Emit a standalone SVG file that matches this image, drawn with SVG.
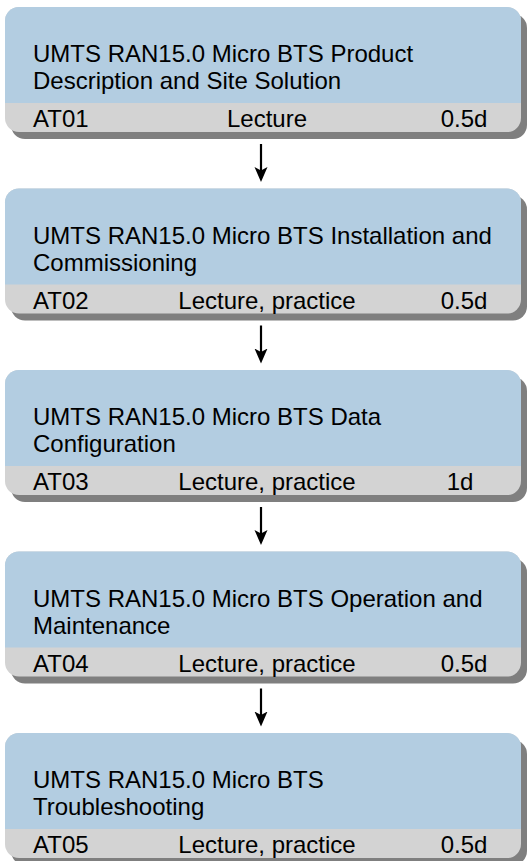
<svg xmlns="http://www.w3.org/2000/svg" xmlns:xlink="http://www.w3.org/1999/xlink" width="530" height="861" viewBox="0 0 530 861">
  <style>
    text { font-family: "Liberation Sans", Arial, sans-serif; font-size: 24px; fill: #000; }
    .mid { text-anchor: middle; }
    .conn line { stroke: #000; stroke-width: 2.2; fill: none; }
  </style>
  <defs>
    <g id="boxShape">
      <rect x="11" y="7" width="516" height="125" rx="14" fill="#7f7f7f"/>
      <rect x="5" y="0" width="516" height="125" rx="14" fill="#d3d3d3"/>
      <path d="M5,14 A14,14 0 0 1 19,0 H507 A14,14 0 0 1 521,14 V96 H5 Z" fill="#b3cde1"/>
    </g>
    <marker id="arrow" viewBox="0 -7 15 14" refX="7" refY="0" markerWidth="15" markerHeight="14" markerUnits="userSpaceOnUse" orient="auto">
      <path d="M0,-6.5 L15,0 L0,6.5 L3.5,0 Z" fill="#000"/>
    </marker>
  </defs>

  <g class="conn" id="connectors">
    <line x1="261" y1="144" x2="261" y2="174" marker-end="url(#arrow)"/>
    <line x1="261" y1="325.5" x2="261" y2="355.5" marker-end="url(#arrow)"/>
    <line x1="261" y1="507" x2="261" y2="537" marker-end="url(#arrow)"/>
    <line x1="261" y1="688.5" x2="261" y2="718.5" marker-end="url(#arrow)"/>
  </g>

  <g id="node-AT01" transform="translate(0,7)">
    <use xlink:href="#boxShape"/>
    <text x="33" y="55">UMTS RAN15.0 Micro BTS Product</text>
    <text x="33" y="82">Description and Site Solution</text>
    <text x="33" y="120">AT01</text>
    <text x="267" y="120" class="mid">Lecture</text>
    <text x="464" y="120" class="mid">0.5d</text>
  </g>

  <g id="node-AT02" transform="translate(0,188.5)">
    <use xlink:href="#boxShape"/>
    <text x="33" y="55">UMTS RAN15.0 Micro BTS Installation and</text>
    <text x="33" y="82">Commissioning</text>
    <text x="33" y="120">AT02</text>
    <text x="267" y="120" class="mid">Lecture, practice</text>
    <text x="464" y="120" class="mid">0.5d</text>
  </g>

  <g id="node-AT03" transform="translate(0,370)">
    <use xlink:href="#boxShape"/>
    <text x="33" y="55">UMTS RAN15.0 Micro BTS Data</text>
    <text x="33" y="82">Configuration</text>
    <text x="33" y="120">AT03</text>
    <text x="267" y="120" class="mid">Lecture, practice</text>
    <text x="460" y="120" class="mid">1d</text>
  </g>

  <g id="node-AT04" transform="translate(0,551.5)">
    <use xlink:href="#boxShape"/>
    <text x="33" y="55">UMTS RAN15.0 Micro BTS Operation and</text>
    <text x="33" y="82">Maintenance</text>
    <text x="33" y="120">AT04</text>
    <text x="267" y="120" class="mid">Lecture, practice</text>
    <text x="464" y="120" class="mid">0.5d</text>
  </g>

  <g id="node-AT05" transform="translate(0,733)">
    <use xlink:href="#boxShape"/>
    <text x="33" y="55">UMTS RAN15.0 Micro BTS</text>
    <text x="33" y="82">Troubleshooting</text>
    <text x="33" y="120">AT05</text>
    <text x="267" y="120" class="mid">Lecture, practice</text>
    <text x="464" y="120" class="mid">0.5d</text>
  </g>
</svg>
